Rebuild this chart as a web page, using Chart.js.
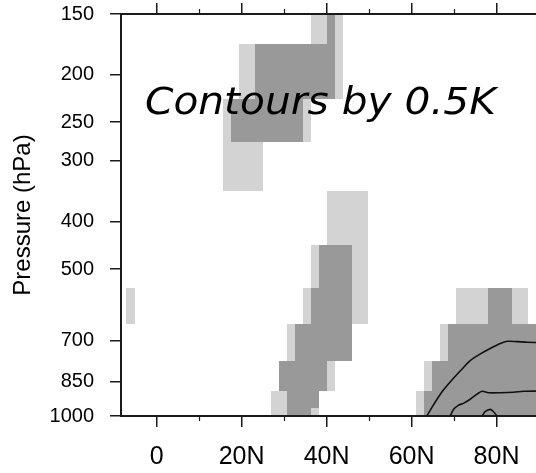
<!DOCTYPE html>
<html>
<head>
<meta charset="utf-8">
<script src="https://cdn.jsdelivr.net/npm/chart.js@4.4.0/dist/chart.umd.min.js"></script>
<style>
  html, body { margin: 0; padding: 0; background: #fff; overflow: hidden; }
  #wrap { width: 560px; height: 473px; }
</style>
</head>
<body>
<div id="wrap"><canvas id="chart1" width="560" height="473"></canvas></div>
<script>
const levels = [150, 200, 250, 300, 400, 500, 600, 700, 850, 925, 1000];
const pressureTicks = [150, 200, 250, 300, 400, 500, 700, 850, 1000];
const latTicks = [0, 20, 40, 60, 80];
const latMinorTicks = [10, 30, 50, 70, 90];

// grid boxes start at 9S
const firstLat = -9.0;
const boxWidth = 1.892;

// shaded runs per level (same order as levels): [first box, last box, 1 = light / 2 = dark]
const shading = [
    [[24, 25, 1], [26, 26, 2], [27, 27, 1]],
    [[15, 16, 1], [17, 26, 2], [27, 27, 1]],
    [[13, 13, 1], [14, 22, 2], [23, 23, 1]],
    [[13, 17, 1]],
    [[26, 30, 1]],
    [[24, 24, 1], [25, 28, 2], [29, 30, 1]],
    [[1, 1, 1], [23, 23, 1], [24, 28, 2], [29, 30, 1], [42, 45, 1], [46, 48, 2], [49, 50, 1]],
    [[21, 21, 1], [22, 28, 2], [40, 40, 1], [41, 52, 2]],
    [[20, 25, 2], [26, 26, 1], [38, 38, 1], [39, 52, 2]],
    [[19, 20, 1], [21, 24, 2], [37, 37, 1], [38, 52, 2]],
    [[19, 20, 1], [21, 23, 2], [24, 24, 1], [37, 37, 1], [38, 52, 2]]
];

// contour lines, every 0.5K
const outerLat = [63.6, 64.8, 66.0, 67.5, 69.5, 71.5, 73.8, 76.2, 78.5, 80.9, 82.5, 84.8, 87.2, 90];
const outerP = [1000, 960, 924, 885, 844, 808, 770, 746, 727, 710, 703, 704, 706, 707];
const midLat = [69.1, 69.9, 71.1, 72.2, 73.8, 75.4, 76.6, 78.1, 80.9, 84.0, 86.4, 90];
const midP = [1000, 969, 950, 942, 924, 902, 890, 896, 896, 894, 890, 889];
const innerLat = [76.6, 77.3, 78.5, 79.3, 80.1];
const innerP = [1000, 980, 969, 980, 1000];

const shadeColors = ['#d3d3d3', '#999999'];
const axisColor = '#1a1a1a';
const fontFamily = '"Liberation Sans", Arial, sans-serif';

function contourSet(lats, pres) {
    return {
        data: lats.map((lat, i) => ({ x: lat, y: pres[i] })),
        showLine: true,
        borderColor: '#111',
        borderWidth: 1.6,
        pointRadius: 0,
        tension: 0.3
    };
}

const shadingPlugin = {
    id: 'shading',
    beforeDraw(chart) {
        const { ctx, chartArea: a, scales: { x, y } } = chart;
        ctx.save();
        ctx.beginPath();
        ctx.rect(a.left, a.top, a.right - a.left, a.bottom - a.top);
        ctx.clip();
        shading.forEach((runs, i) => {
            const top = i === 0 ? levels[0] : Math.sqrt(levels[i - 1] * levels[i]);
            const bottom = i === levels.length - 1 ? levels[i] : Math.sqrt(levels[i] * levels[i + 1]);
            const y0 = Math.round(y.getPixelForValue(top));
            const y1 = Math.round(y.getPixelForValue(bottom));
            runs.forEach(([from, to, shade]) => {
                const x0 = Math.round(x.getPixelForValue(firstLat + from * boxWidth));
                const x1 = Math.round(x.getPixelForValue(firstLat + (to + 1) * boxWidth));
                ctx.fillStyle = shadeColors[shade - 1];
                ctx.fillRect(x0, y0, x1 - x0, y1 - y0);
            });
        });
        ctx.restore();
    }
};

// minor latitude ticks and the label inside the plot
const extrasPlugin = {
    id: 'extras',
    afterDraw(chart) {
        const { ctx, chartArea: a, scales: { x } } = chart;
        ctx.save();
        ctx.strokeStyle = axisColor;
        ctx.lineWidth = 1.2;
        latMinorTicks.forEach(v => {
            const px = Math.round(x.getPixelForValue(v)) + 0.5;
            ctx.beginPath();
            ctx.moveTo(px, a.bottom);
            ctx.lineTo(px, a.bottom + 5);
            ctx.moveTo(px, a.top);
            ctx.lineTo(px, a.top - 5);
            ctx.stroke();
        });

        ctx.fillStyle = '#000';
        ctx.font = 'italic 37px "DejaVu Sans"';
        ctx.textBaseline = 'alphabetic';
        ctx.translate(145, 114);
        ctx.scale(1.1, 1);
        ctx.fillText('Contours by 0.5K', 0, 0);
        ctx.restore();
    }
};

const ctx = document.querySelector('#chart1').getContext('2d');

const xGrid = { drawOnChartArea: false, tickLength: 11, tickColor: axisColor, lineWidth: 1.5 };
const xBorder = { color: axisColor, width: 2 };

new Chart(ctx, {
    type: 'scatter',
    data: {
        datasets: [
            contourSet(outerLat, outerP),
            contourSet(midLat, midP),
            contourSet(innerLat, innerP)
        ]
    },
    options: {
        responsive: false,
        animation: false,
        devicePixelRatio: 1,
        layout: { padding: { left: 0, right: 21, top: 0, bottom: 0 } },
        plugins: {
            legend: { display: false },
            tooltip: { enabled: false }
        },
        scales: {
            x: {
                type: 'linear',
                position: 'bottom',
                min: -8.4,
                max: 90,
                afterBuildTicks: s => { s.ticks = latTicks.map(v => ({ value: v })); },
                afterFit: s => { s.height = 57; },
                grid: xGrid,
                border: xBorder,
                ticks: {
                    autoSkip: false,
                    maxRotation: 0,
                    padding: 15,
                    color: '#000',
                    font: { family: fontFamily, size: 25 },
                    callback: v => v === 0 ? '0' : v + 'N'
                }
            },
            x2: {
                type: 'linear',
                position: 'top',
                min: -8.4,
                max: 90,
                afterBuildTicks: s => { s.ticks = latTicks.map(v => ({ value: v })); },
                afterFit: s => { s.height = 14; },
                grid: xGrid,
                border: xBorder,
                ticks: { display: false }
            },
            y: {
                type: 'logarithmic',
                position: 'left',
                min: 150,
                max: 1000,
                reverse: true,
                afterBuildTicks: s => { s.ticks = pressureTicks.map(v => ({ value: v })); },
                afterFit: s => {
                    s.width = 121;
                    s.paddingTop = 0;
                    s.paddingBottom = 0;
                },
                grid: xGrid,
                border: xBorder,
                ticks: {
                    autoSkip: false,
                    padding: 16,
                    color: '#000',
                    font: { family: fontFamily, size: 20 },
                    callback: v => String(v)
                },
                title: {
                    display: true,
                    text: 'Pressure (hPa)',
                    color: '#000',
                    font: { family: fontFamily, size: 24 },
                    padding: { top: 9, bottom: 0 }
                }
            }
        }
    },
    plugins: [shadingPlugin, extrasPlugin]
});
</script>
</body>
</html>
